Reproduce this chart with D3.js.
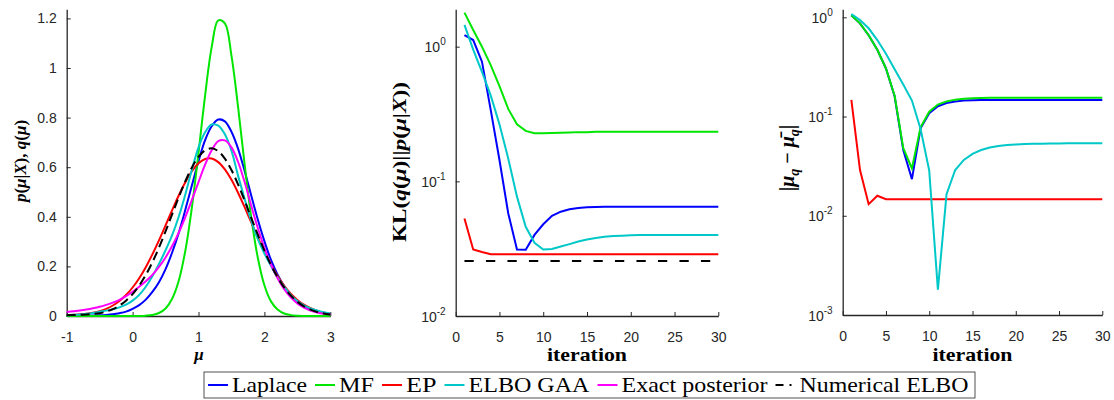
<!DOCTYPE html>
<html><head><meta charset="utf-8">
<script src="https://cdn.jsdelivr.net/npm/d3@7"></script>
<style>body{margin:0;background:#fff} svg{display:block}</style>
</head><body>
<svg id="c" width="1114" height="400"></svg>
<script>
// ---------------- DATA ----------------
const mu = [-1.0,-0.9,-0.8,-0.7,-0.6,-0.5,-0.4,-0.3,-0.2,-0.1,0.0,0.1,0.2,0.3,0.4,0.5,0.6,0.7,0.8,0.9,1.0,1.1,1.2,1.3,1.4,1.5,1.6,1.7,1.8,1.9,2.0,2.1,2.2,2.3,2.4,2.5,2.6,2.7,2.8,2.9,3.0];
const pdfLaplace = [0.0003,0.0005,0.0007,0.0011,0.0017,0.0028,0.0044,0.0070,0.0113,0.0175,0.0286,0.0437,0.0659,0.0969,0.136,0.189,0.256,0.335,0.428,0.527,0.624,0.709,0.765,0.792,0.785,0.743,0.675,0.585,0.486,0.389,0.302,0.226,0.167,0.121,0.084,0.057,0.038,0.025,0.017,0.011,0.007];
const pdfMF = [0,0,0,0,0,0,0,0,0,0,0.0001,0.0004,0.0014,0.0043,0.0121,0.0305,0.0695,0.142,0.263,0.438,0.658,0.889,1.084,1.192,1.180,1.050,0.844,0.611,0.399,0.235,0.124,0.059,0.026,0.0099,0.0035,0.0011,0.0003,0.0001,0,0,0];
const pdfEP = [0.004,0.005,0.007,0.009,0.013,0.0191,0.0288,0.0423,0.0605,0.0845,0.1149,0.1524,0.197,0.2483,0.3051,0.3655,0.4268,0.486,0.5394,0.5836,0.6156,0.6331,0.6347,0.6204,0.5911,0.5491,0.4972,0.4389,0.3778,0.317,0.2592,0.2068,0.1607,0.1218,0.09,0.0648,0.0455,0.0312,0.0208,0.0135,0.0086];
const pdfGAA = [0.0035,0.0047,0.0062,0.0089,0.0124,0.0171,0.0217,0.027,0.035,0.046,0.062,0.085,0.118,0.160,0.210,0.265,0.326,0.400,0.490,0.590,0.680,0.741,0.772,0.768,0.733,0.667,0.566,0.473,0.384,0.310,0.252,0.202,0.155,0.118,0.085,0.060,0.043,0.031,0.022,0.015,0.010];
const pdfExact = [0.016,0.019,0.022,0.026,0.031,0.037,0.045,0.054,0.065,0.080,0.098,0.118,0.140,0.166,0.198,0.236,0.282,0.336,0.399,0.468,0.540,0.610,0.668,0.705,0.708,0.680,0.622,0.540,0.445,0.355,0.275,0.207,0.152,0.108,0.075,0.051,0.034,0.022,0.014,0.009,0.006];
const pdfNumELBO = [0.003,0.004,0.005,0.006,0.008,0.0112,0.0179,0.0279,0.0421,0.0619,0.0884,0.1227,0.1654,0.2167,0.2758,0.3411,0.410,0.4788,0.5433,0.599,0.6419,0.6682,0.676,0.6644,0.6345,0.5889,0.531,0.4653,0.3961,0.3277,0.2634,0.2058,0.1562,0.1152,0.0825,0.0575,0.0389,0.0256,0.0163,0.0101,0.0061];

const iterations = [1,2,3,4,5,6,7,8,9,10,11,12,13,14,15,16,17,18,19,20,21,22,23,24,25,26,27,28,29,30];
const klLaplace = [1.22,1.12,0.774,0.339,0.144,0.058,0.0312,0.031,0.040,0.048,0.0555,0.0595,0.062,0.0635,0.0642,0.0645,0.0647,0.0648,0.0648,0.0648,0.0648,0.0648,0.0648,0.0648,0.0648,0.0648,0.0648,0.0648,0.0648,0.0648];
const klMF = [1.79,1.33,1.0,0.73,0.51,0.345,0.265,0.237,0.228,0.228,0.229,0.230,0.231,0.232,0.232,0.233,0.233,0.233,0.233,0.233,0.233,0.233,0.233,0.233,0.233,0.233,0.233,0.233,0.233,0.233];
const klEP = [0.053,0.0312,0.0299,0.0288,0.0288,0.0288,0.0288,0.0288,0.0288,0.0288,0.0288,0.0288,0.0288,0.0288,0.0288,0.0288,0.0288,0.0288,0.0288,0.0288,0.0288,0.0288,0.0288,0.0288,0.0288,0.0288,0.0288,0.0288,0.0288,0.0288];
const klGAA = [1.45,0.95,0.65,0.435,0.265,0.148,0.077,0.046,0.035,0.0312,0.0315,0.0328,0.0342,0.0357,0.037,0.038,0.0387,0.0392,0.0395,0.0397,0.0399,0.040,0.040,0.040,0.040,0.040,0.040,0.040,0.040,0.040];
const klNumELBO = [0.0256,0.0256,0.0256,0.0256,0.0256,0.0256,0.0256,0.0256,0.0256,0.0256,0.0256,0.0256,0.0256,0.0256,0.0256,0.0256,0.0256,0.0256,0.0256,0.0256,0.0256,0.0256,0.0256,0.0256,0.0256,0.0256,0.0256,0.0256,0.0256,0.0256];

const muErrLaplace = [1.05,0.87,0.66,0.47,0.305,0.16,0.046,0.0234,0.076,0.108,0.127,0.137,0.142,0.145,0.146,0.147,0.147,0.147,0.147,0.147,0.147,0.147,0.147,0.147,0.147,0.147,0.147,0.147,0.147,0.147];
const muErrMF = [1.05,0.87,0.66,0.47,0.305,0.162,0.048,0.030,0.078,0.112,0.132,0.142,0.148,0.151,0.153,0.154,0.155,0.155,0.155,0.155,0.155,0.155,0.155,0.155,0.155,0.155,0.155,0.155,0.155,0.155];
const muErrEP = [0.147,0.0289,0.0131,0.0159,0.0147,0.0147,0.0147,0.0147,0.0147,0.0147,0.0147,0.0147,0.0147,0.0147,0.0147,0.0147,0.0147,0.0147,0.0147,0.0147,0.0147,0.0147,0.0147,0.0147,0.0147,0.0147,0.0147,0.0147,0.0147,0.0147];
const muErrGAA = [1.08,0.94,0.775,0.59,0.43,0.30,0.21,0.145,0.075,0.0285,0.0018,0.0165,0.0289,0.0365,0.042,0.046,0.0488,0.0505,0.0516,0.0523,0.0528,0.0531,0.0533,0.0535,0.0536,0.0537,0.0537,0.0537,0.0537,0.0537];

const pdfXTicks = [-1,0,1,2,3];
const pdfXLabels = ["-1","0","1","2","3"];
const pdfYTicks = [0,0.2,0.4,0.6,0.8,1.0,1.2];
const pdfYLabels = ["0","0.2","0.4","0.6","0.8","1","1.2"];
const iterTicks = [0,5,10,15,20,25,30];
const iterLabels = ["0","5","10","15","20","25","30"];
const klYTicks = [0.01,0.1,1];
const klYExp = ["-2","-1","0"];
const muYTicks = [0.001,0.01,0.1,1];
const muYExp = ["-3","-2","-1","0"];

const legendNames = ["Laplace","MF","EP","ELBO GAA","Exact posterior","Numerical ELBO"];
const colors = ["#0000ff","#00e600","#ff0000","#00c8c8","#ff00ff","#000000"];

// ---------------- DRAW ----------------
const svg = d3.select('#c');
const AX = '#262626';
const SANS = '"Liberation Sans", Arial, Helvetica, sans-serif';
const SERIF = '"Liberation Serif", "DejaVu Serif", "Times New Roman", serif';

function axes(x, y, yBottom, xTicks, xLabels, yTicks, yLabelFn, logY) {
  const g = svg.append('g');
  const gx = g.append('g').attr('transform', `translate(0,${yBottom})`)
    .call(d3.axisBottom(x).tickValues(xTicks).tickFormat((d,i)=>xLabels[i]).tickSizeInner(-4).tickSizeOuter(0).tickPadding(15.8));
  const gy = g.append('g').attr('transform', `translate(${x.range()[0]},0)`)
    .call(d3.axisLeft(y).tickValues(yTicks).tickFormat(logY ? () => '' : (d,i)=>yLabelFn[i]).tickSizeInner(-4).tickSizeOuter(0).tickPadding(10));
  [gx, gy].forEach(a => {
    a.select('.domain').attr('stroke', AX).attr('stroke-width', 1.3);
    a.selectAll('.tick line').attr('stroke', AX).attr('stroke-width', 1);
    a.selectAll('.tick text').attr('fill', AX).style('font-family', SANS).style('font-size', '14px');
  });
  if (logY) {
    gy.selectAll('.tick').each(function(d, i) {
      const t = d3.select(this).select('text').attr('dy', null).attr('y', 5).attr('x', -10).attr('text-anchor','end');
      t.append('tspan').text('10');
      t.append('tspan').attr('dy', -7).style('font-size','10px').text(yLabelFn[i]);
    });
  }
  return g;
}

// Panel 1
const x1 = d3.scaleLinear().domain([-1,3]).range([66.7,330.3]);
const y1 = d3.scaleLinear().domain([0,1.2367]).range([316,9.3]);
axes(x1, y1, 316, pdfXTicks, pdfXLabels, pdfYTicks, pdfYLabels, false);
const pdfSeries = [pdfLaplace, pdfMF, pdfEP, pdfGAA, pdfExact, pdfNumELBO];
const line1 = d3.line().x((d,i)=>x1(mu[i])).y(d=>y1(d)).curve(d3.curveCatmullRom.alpha(0.5));
pdfSeries.forEach((s, k) => {
  svg.append('path').attr('d', line1(s)).attr('fill','none').attr('stroke', colors[k])
    .attr('stroke-width', 2).attr('stroke-dasharray', k===5 ? '9,5' : null);
});

// Panel 2
const x2 = d3.scaleLinear().domain([0,30]).range([455.7,718.3]);
const y2 = d3.scaleLog().domain([0.01,1.895]).range([316,9.3]);
axes(x2, y2, 316, iterTicks, iterLabels, klYTicks, klYExp, true);
const klSeries = [klLaplace, klMF, klEP, klGAA, null, klNumELBO];
const line2 = d3.line().x((d,i)=>x2(iterations[i])).y(d=>y2(d));
klSeries.forEach((s, k) => {
  if (!s) return;
  svg.append('path').attr('d', line2(s)).attr('fill','none').attr('stroke', colors[k])
    .attr('stroke-width', 2).attr('stroke-dasharray', k===5 ? '9.3,12.2' : null);
});

// Panel 3
const x3 = d3.scaleLinear().domain([0,30]).range([842.7,1102.3]);
const y3 = d3.scaleLog().domain([0.001,1.204]).range([315,9.3]);
axes(x3, y3, 315, iterTicks, iterLabels, muYTicks, muYExp, true);
const muSeries = [muErrLaplace, muErrMF, muErrEP, muErrGAA];
const line3 = d3.line().x((d,i)=>x3(iterations[i])).y(d=>y3(d));
muSeries.forEach((s, k) => {
  svg.append('path').attr('d', line3(s)).attr('fill','none').attr('stroke', colors[k]).attr('stroke-width', 2);
});

// Axis labels
function label(x, y, rot, size) {
  return svg.append('text').attr('transform', `translate(${x},${y})` + (rot ? ' rotate(-90)' : ''))
    .attr('text-anchor','middle').attr('fill', '#000').style('font-family', SERIF).style('font-size', (size||17)+'px').style('font-weight','bold');
}
let t = label(199, 360, false, 17);
t.append('tspan').style('font-style','italic').text('μ');
label(587, 361, false, 19).attr('textLength', 80).attr('lengthAdjust','spacingAndGlyphs').text('iteration');
label(972.5, 361, false, 19).attr('textLength', 80).attr('lengthAdjust','spacingAndGlyphs').text('iteration');

t = label(26, 161, true, 17);
t.append('tspan').style('font-style','italic').text('p');
t.append('tspan').text('(');
t.append('tspan').style('font-style','italic').text('μ');
t.append('tspan').text('|');
t.append('tspan').style('font-style','italic').text('X');
t.append('tspan').text('), ');
t.append('tspan').style('font-style','italic').text('q');
t.append('tspan').text('(');
t.append('tspan').style('font-style','italic').text('μ');
t.append('tspan').text(')');

t = label(406, 162, true, 19).attr('textLength', 160).attr('lengthAdjust','spacingAndGlyphs');
t.append('tspan').text('KL(');
t.append('tspan').style('font-style','italic').text('q');
t.append('tspan').text('(');
t.append('tspan').style('font-style','italic').text('μ');
t.append('tspan').text(')||');
t.append('tspan').style('font-style','italic').text('p');
t.append('tspan').text('(');
t.append('tspan').style('font-style','italic').text('μ');
t.append('tspan').text('|');
t.append('tspan').style('font-style','italic').text('X');
t.append('tspan').text('))');

t = label(794, 158, true, 20);
t.append('tspan').text('|');
t.append('tspan').style('font-style','italic').text('μ');
t.append('tspan').style('font-style','italic').style('font-size','14px').attr('dy', 5).text('q');
t.append('tspan').attr('dy', -5).text(' − ');
t.append('tspan').style('font-style','italic').text('μ̄');
t.append('tspan').style('font-style','italic').style('font-size','14px').attr('dy', 5).text('q');
t.append('tspan').attr('dy', -5).text('|');

// Legend (entries laid out one after another inside the box)
const legendTextWidth = [75, 35, 30.5, 121, 146, 169];
const lg = svg.append('g');
lg.append('rect').attr('x', 204).attr('y', 372).attr('width', 771).attr('height', 26)
  .attr('fill','#fff').attr('stroke', AX).attr('stroke-width', 0.8);
let cx = 208;
legendNames.forEach((name, k) => {
  lg.append('line').attr('x1', cx).attr('x2', cx + 20).attr('y1', 385).attr('y2', 385)
    .attr('stroke', colors[k]).attr('stroke-width', 2).attr('stroke-dasharray', k===5 ? '8,6,2,4' : null);
  lg.append('text').attr('x', cx + 24).attr('y', 391.5).style('font-family', SERIF).style('font-size','22px')
    .attr('textLength', legendTextWidth[k]).attr('lengthAdjust','spacingAndGlyphs').attr('fill','#000').text(name);
  cx += 24 + legendTextWidth[k] + 8;
});
</script>
</body></html>
